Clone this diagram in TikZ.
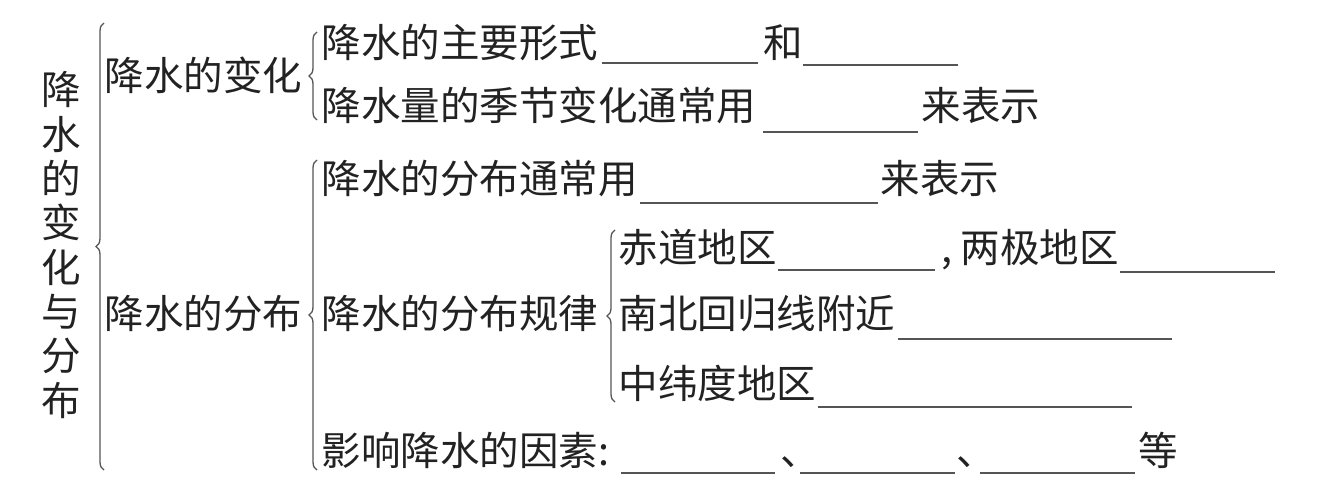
\documentclass[tikz,border=0pt]{standalone}
\usepackage{fontspec}
\setmainfont{Noto Sans CJK SC}
\usetikzlibrary{decorations.pathreplacing}
\definecolor{cink}{HTML}{222222}
\definecolor{cline}{HTML}{555555}
\tikzset{
  every picture/.style={line width=1.2pt},
  txt/.style={anchor=base west, inner sep=0pt, text=cink, font=\fontsize{39.5}{43.1}\selectfont},
  vtitle/.style={inner sep=0pt, align=center, text=cink, font=\fontsize{39.5}{44.3}\selectfont},
  blank/.style={draw=cline, line width=1.5pt},
  curly/.style={draw=cline, line width=1.3pt, decorate, decoration={brace, amplitude=8pt, aspect=0.5}},
}

\begin{document}
\begin{tikzpicture}[x=1pt, y=-1pt]
  \useasboundingbox (0,0) rectangle (1320,495);
  % left title, written top to bottom
  \node[vtitle] (title) at (61,245) {降\\水\\的\\变\\化\\与\\分\\布};
  \draw[curly] (104,470) -- (104,23);
  \node[txt] (chg) at (104,90) {降水的变化};
  \node[txt] (dist) at (104,328) {降水的分布};

  % 降水的变化
  \draw[curly] (317,120) -- (317,32);
  \node[txt] (form) at (321,58) {降水的主要形式};
  \draw[blank] (602,63) -- (758,63);
  \node[txt] (he) at (763,58) {和};
  \draw[blank] (803,65) -- (958,65);
  \node[txt] (season) at (321,121) {降水量的季节变化通常用};
  \draw[blank] (763,132) -- (918,132);
  \node[txt] (show1) at (921,121) {来表示};

  % 降水的分布
  \draw[curly] (317,470) -- (317,160);
  \node[txt] (map) at (321,193) {降水的分布通常用};
  \draw[blank] (640,203) -- (878,203);
  \node[txt] (show2) at (880,193) {来表示};
  \node[txt] (rule) at (321,328) {降水的分布规律};
  \draw[curly] (615,402) -- (615,230);
  \node[txt] (eq) at (618,262) {赤道地区};
  \draw[blank] (778,270) -- (935,270);
  \node[txt] (comma) at (941,262) {,};
  \node[txt] (pole) at (960,262) {两极地区};
  \draw[blank] (1120,272) -- (1275,272);
  \node[txt] (trop) at (618,328) {南北回归线附近};
  \draw[blank] (898,339) -- (1172,339);
  \node[txt] (mid) at (618,398) {中纬度地区};
  \draw[blank] (818,407) -- (1132,407);
  \node[txt] (factor) at (321,465) {影响降水的因素:};
  \draw[blank] (621,473) -- (775,473);
  \node[txt] (dun1) at (780,465) {、};
  \draw[blank] (800,473) -- (955,473);
  \node[txt] (dun2) at (956,465) {、};
  \draw[blank] (980,473) -- (1135,473);
  \node[txt] (etc) at (1138,465) {等};
\end{tikzpicture}
\end{document}
